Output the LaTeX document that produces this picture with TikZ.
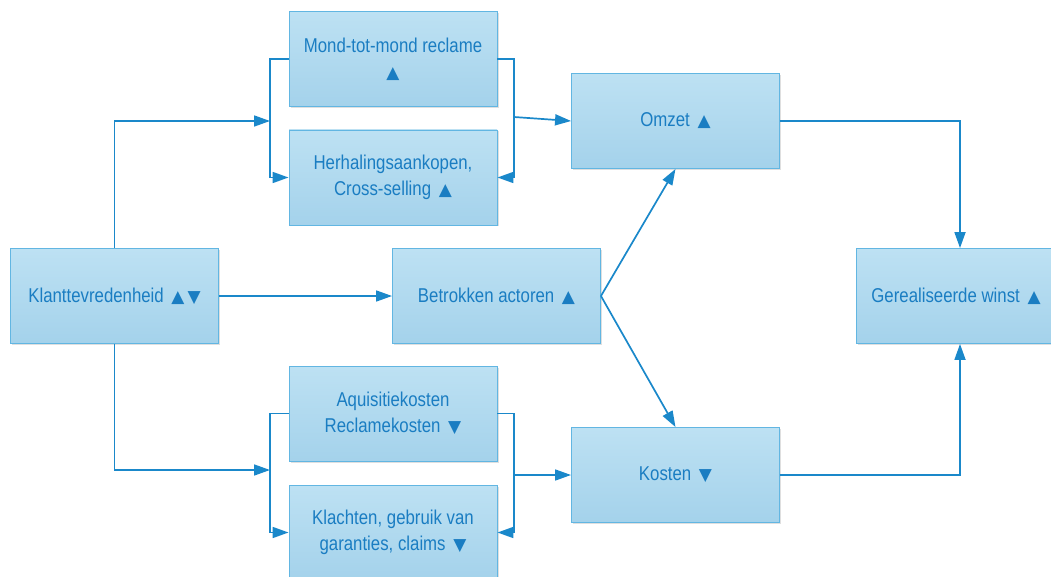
\documentclass[tikz,border=0pt]{standalone}
\usepackage{fontspec}
\setmainfont{Liberation Sans}[FakeStretch=0.84]
\newfontfamily\symf{DejaVu Sans}
\newcommand{\tup}{\hspace{3pt}{\symf\fontsize{17}{26}\selectfont ▲}}
\newcommand{\tdn}{\hspace{3pt}{\symf\fontsize{17}{26}\selectfont ▼}}
\usetikzlibrary{arrows.meta,shadows}
\definecolor{boxtop}{HTML}{BDE1F3}
\definecolor{boxbot}{HTML}{A4D2EB}
\definecolor{boxline}{HTML}{62B6E2}
\definecolor{linec}{HTML}{1A88CA}
\definecolor{txtc}{HTML}{1A7DC2}
\tikzset{
  box/.style={rectangle, draw=boxline, line width=0.9pt, top color=boxtop, bottom color=boxbot,
    minimum width=208pt, minimum height=95pt, align=center, text=txtc, font=\fontsize{20}{26}\selectfont,
    drop shadow={shadow xshift=1.5pt, shadow yshift=-1.5pt, fill=black!25, opacity=0.5}},
  conn/.style={draw=linec, line width=1.7pt},
  arr/.style={conn, -{Triangle[length=16pt,width=11pt]}},
}
\begin{document}
\begin{tikzpicture}[x=1pt,y=-1pt]
\useasboundingbox (0,0) rectangle (1051,577);
\clip (0,0) rectangle (1051,577);
\node[box] (mond) at (393,59) {Mond-tot-mond reclame\\{\symf\fontsize{17}{26}\selectfont ▲}};
\node[box] (herh) at (393,177.5) {Herhalingsaankopen,\\Cross-selling \tup};
\node[box] (omzet) at (675.5,121) {Omzet \tup};
\node[box] (klant) at (114.5,296) {Klanttevredenheid \tup\tdn};
\node[box] (betr) at (496.5,296) {Betrokken actoren \tup};
\node[box] (winst) at (960,296) {\hspace*{-8pt}Gerealiseerde winst \tup};
\node[box] (aqui) at (393,413.5) {Aquisitiekosten\\Reclamekosten \tdn};
\node[box] (kost) at (675.5,475) {Kosten \tdn};
\node[box] (klach) at (393,532.5) {Klachten, gebruik van\\garanties, claims \tdn};
% brackets top
\coordinate (tl) at (270,121);
\coordinate (tr) at (514,117);
\coordinate (bl) at (270,470);
\coordinate (br) at (514,475);
\draw[conn] (mond.west) -- (270,59) -- (tl);
\draw[arr] (tl) |- (herh.west);
\draw[arr] (klant.north) |- (tl);
\draw[conn] (mond.east) -- (514,59) -- (tr);
\draw[arr] (tr) |- (herh.east);
\draw[arr] (tr) -- (omzet.west);
% brackets bottom
\draw[conn] (aqui.west) -- (270,413.5) -- (bl);
\draw[arr] (bl) |- (klach.west);
\draw[arr] (klant.south) |- (bl);
\draw[conn] (aqui.east) -- (514,413.5) -- (br);
\draw[arr] (br) |- (klach.east);
\draw[arr] (br) -- (kost.west);
% middle
\draw[arr] (klant.east) -- (betr.west);
\draw[arr] (betr.east) -- (omzet.south);
\draw[arr] (betr.east) -- (kost.north);
\draw[arr] (omzet.east) -| (winst.north);
\draw[arr] (kost.east) -| (winst.south);
\end{tikzpicture}
\end{document}
